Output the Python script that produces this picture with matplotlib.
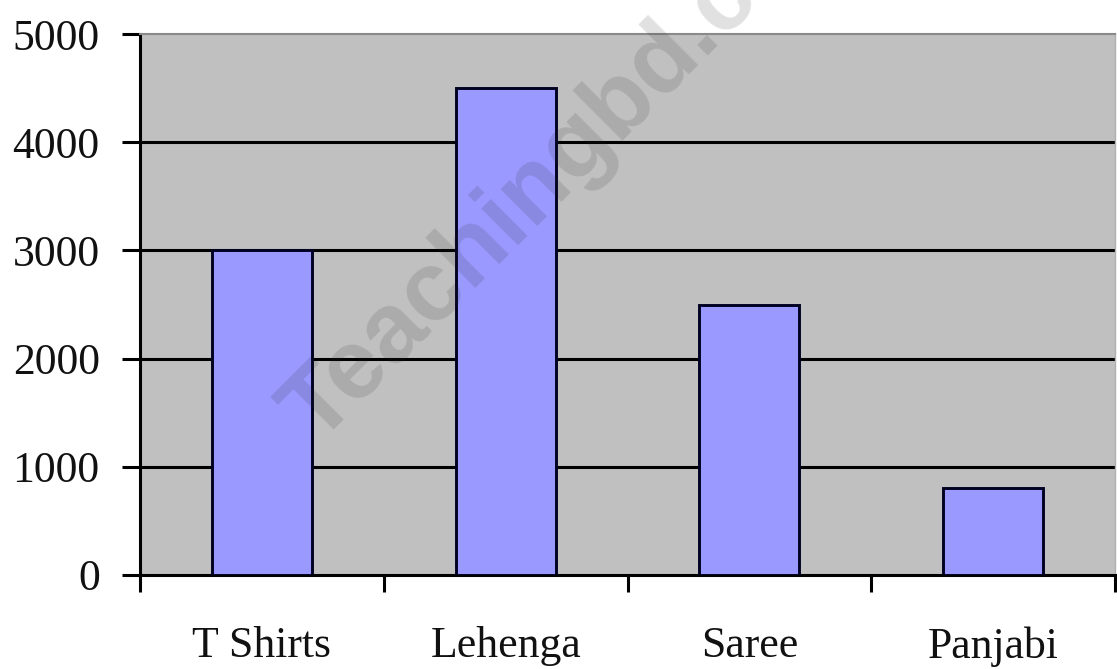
import numpy as np
import matplotlib
matplotlib.use('Agg')
import matplotlib.pyplot as plt

categories=['T Shirts','Lehenga','Saree','Panjabi']
values=[3000,4500,2500,800]
yticks=[0,1000,2000,3000,4000,5000]

fig=plt.figure(figsize=(11.17,6.69),dpi=100)
ax=fig.add_axes([140/1117,1-575/669,975/1117,541/669])
ax.set_facecolor('#c0c0c0')

x=np.arange(len(categories))+0.5
ax.bar(x,values,width=0.41,color='#9999ff',edgecolor='#000022',linewidth=2.1,zorder=3)

ax.set_xlim(0,len(categories))
ax.set_ylim(yticks[0],yticks[-1])
ax.set_yticks(yticks)
ax.set_yticklabels([str(v) for v in yticks])
ax.set_xticks(np.arange(len(categories)+1))
ax.set_xticklabels([])
ax.set_xticks(x,minor=True)
ax.set_xticklabels(categories,minor=True)

ax.grid(axis='y',color='black',linewidth=2.2,zorder=1)
ax.set_axisbelow(True)
gl=ax.get_ygridlines()
gl[0].set_visible(False)
gl[-1].set_visible(False)

for s in ['left','bottom']:
    ax.spines[s].set_linewidth(2.2)
    ax.spines[s].set_color('black')
ax.spines['top'].set_color('#8a8a8a')
ax.spines['top'].set_linewidth(1.5)
ax.spines['right'].set_color('#b0b0b0')
ax.spines['right'].set_linewidth(1.0)

font={'family':'Liberation Serif','size':31.5}
ax.tick_params(axis='y',which='major',length=13,width=2.2,pad=16,direction='out')
ax.tick_params(axis='x',which='major',length=12.5,width=2.2,direction='out')
ax.tick_params(axis='x',which='minor',length=0,pad=37)
for t in ax.get_yticklabels()+ax.get_xticklabels(minor=True):
    t.set_fontfamily(font['family'])
    t.set_fontsize(font['size'])
    t.set_color('#111111')

# watermark
fig.text(318/1117,1-445/669,'Teachingbd.com',fontsize=71,fontweight='bold',
         family='Liberation Sans',color='#2a2a2a',alpha=0.14,rotation=45,
         rotation_mode='anchor',ha='left',va='baseline',zorder=10)

fig.savefig('out.png',dpi=100)
